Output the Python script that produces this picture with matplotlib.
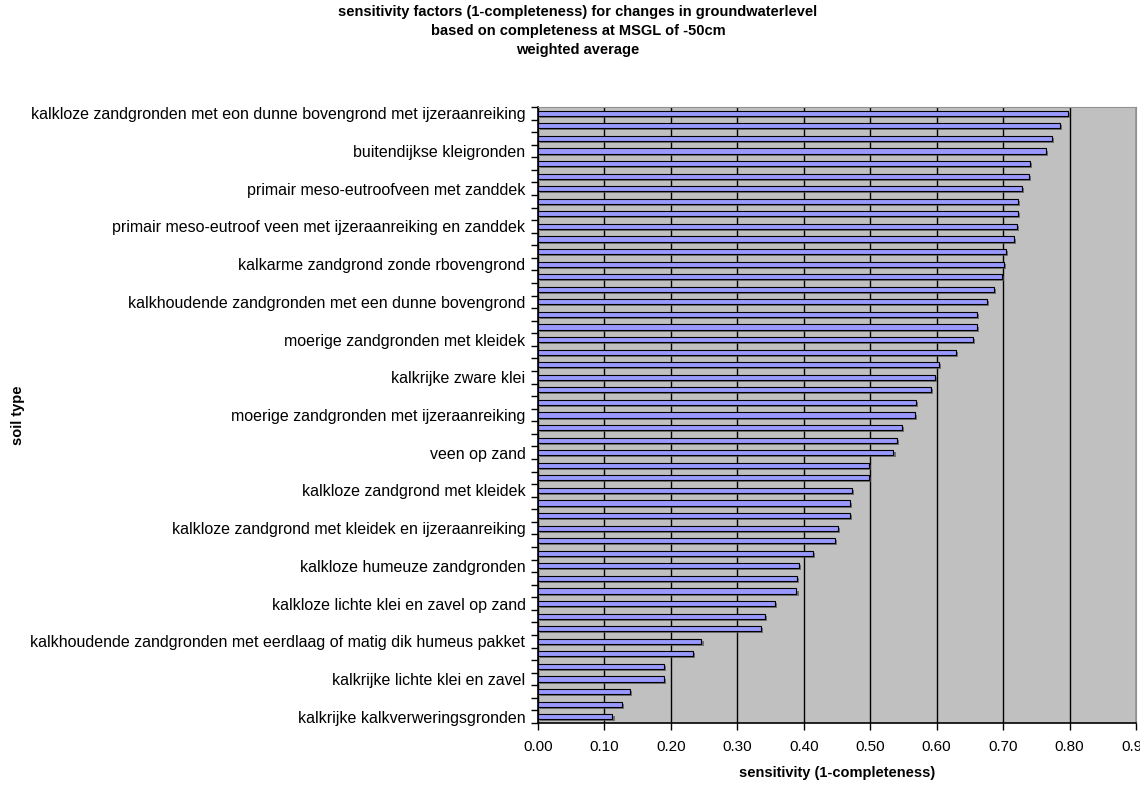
import numpy as np
import matplotlib
matplotlib.use('Agg')
import matplotlib.pyplot as plt
import matplotlib.patheffects as pe
from matplotlib.ticker import MultipleLocator, FormatStrFormatter

plt.rcParams['font.family'] = ['Liberation Sans', 'DejaVu Sans']

# sensitivity per soil type, listed from top to bottom of the chart
sensitivity = [0.798, 0.786, 0.774, 0.765, 0.741, 0.739, 0.729, 0.723, 0.723, 0.721,
               0.716, 0.704, 0.701, 0.698, 0.686, 0.676, 0.660, 0.660, 0.654, 0.629,
               0.604, 0.597, 0.592, 0.569, 0.568, 0.548, 0.540, 0.535, 0.498, 0.498,
               0.472, 0.469, 0.469, 0.451, 0.447, 0.414, 0.393, 0.390, 0.389, 0.356,
               0.342, 0.335, 0.246, 0.233, 0.190, 0.190, 0.139, 0.127, 0.112]

# only every third soil type gets a label on the axis
soil_labels = ['kalkloze zandgronden met eon dunne bovengrond met ijzeraanreiking',
               'buitendijkse kleigronden',
               'primair meso-eutroofveen met zanddek',
               'primair meso-eutroof veen met ijzeraanreiking en zanddek',
               'kalkarme zandgrond zonde rbovengrond',
               'kalkhoudende zandgronden met een dunne bovengrond',
               'moerige zandgronden met kleidek',
               'kalkrijke zware klei',
               'moerige zandgronden met ijzeraanreiking',
               'veen op zand',
               'kalkloze zandgrond met kleidek',
               'kalkloze zandgrond met kleidek en ijzeraanreiking',
               'kalkloze humeuze zandgronden',
               'kalkloze lichte klei en zavel op zand',
               'kalkhoudende zandgronden met eerdlaag of matig dik humeus pakket',
               'kalkrijke lichte klei en zavel',
               'kalkrijke kalkverweringsgronden']

n = len(sensitivity)
ypos = np.arange(n)[::-1]

fig = plt.figure(figsize=(11.4, 7.88), dpi=100)
ax = fig.add_axes([538/1140, 1-723/788, (1136-538)/1140, (723-107)/788])
ax.set_facecolor('#C0C0C0')

bars = ax.barh(ypos, sensitivity, height=0.4, color='#9999FF',
               edgecolor='black', linewidth=0.8, zorder=3)
for b in bars:
    b.set_path_effects([pe.SimplePatchShadow(offset=(1.5, -1.5),
                                             shadow_rgbFace='#505050', alpha=0.7),
                        pe.Normal()])

ax.set_xlim(0, 0.9)
ax.set_ylim(-0.5, n-0.5)

# vertical gridlines
ax.xaxis.set_major_locator(MultipleLocator(0.1))
ax.xaxis.set_major_formatter(FormatStrFormatter('%.2f'))
ax.grid(axis='x', color='black', linewidth=1, zorder=1)
ax.set_axisbelow(True)

# category labels at every third bar, ticks between categories
ax.set_yticks(ypos[::3])
ax.set_yticklabels(soil_labels, fontsize=11.5)
ax.tick_params(axis='y', which='major', length=0, pad=9)
ax.set_yticks(np.arange(n+1)-0.5, minor=True)
ax.tick_params(axis='y', which='minor', length=5, width=1, direction='out', color='black')
ax.tick_params(axis='x', length=5, width=1, direction='out', labelsize=11, pad=7)

for s in ['top', 'right']:
    ax.spines[s].set_color('#909090')
for s in ['left', 'bottom']:
    ax.spines[s].set_color('black')
    ax.spines[s].set_linewidth(1.2)

ax.set_xlabel('sensitivity (1-completeness)', fontsize=10.5, fontweight='bold', labelpad=9)
fig.text(18/1140, 1-415/788, 'soil type', rotation=90, fontsize=10.5,
         fontweight='bold', ha='center', va='center')

fig.suptitle('sensitivity factors (1-completeness) for changes in groundwaterlevel\n'
             'based on completeness at MSGL of -50cm\nweighted average',
             x=578/1140, y=1-5/788, fontsize=10.5, fontweight='bold',
             linespacing=1.45, va='top')

fig.savefig('out.png', dpi=100)
